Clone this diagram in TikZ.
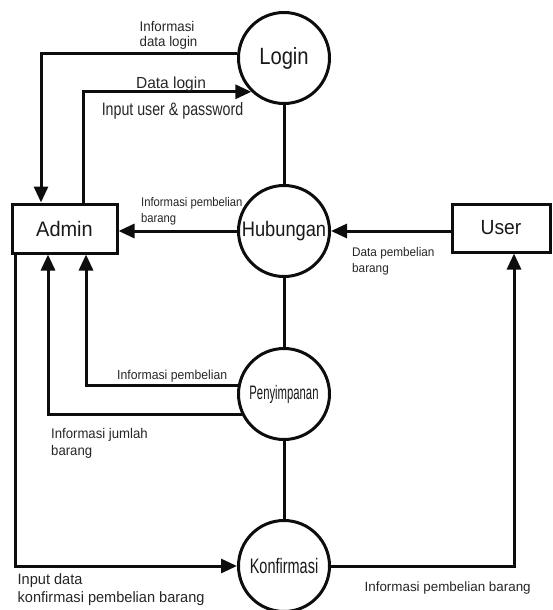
\documentclass[tikz,border=0pt]{standalone}
\usepackage{graphicx}
\usepackage{fontspec}
\setmainfont{Liberation Sans}
\usetikzlibrary{arrows.meta}
\newcommand{\nx}[2]{\scalebox{#1}[1]{#2}}
\newcommand{\twol}[2]{\vtop{\hbox{#1}\hbox{#2}}}
\newcommand{\fs}[2]{\fontsize{#1}{#2}\selectfont}
\begin{document}
\begin{tikzpicture}[x=1pt,y=-1pt,
  proc/.style={circle,draw=black!95,line width=3pt,minimum size=91pt,inner sep=0pt,text=black!90},
  ent/.style={rectangle,draw=black!95,line width=3pt,inner sep=0pt,text=black!90},
  link/.style={draw=black!95,line width=3pt},
  flow/.style={link,-{Triangle[length=16pt,width=14pt]}},
  lbl/.style={inner sep=0pt,text=black!85},
]
\useasboundingbox (0,0) rectangle (552,610);
\node[proc,font=\fs{23.5}{23.5}] (Login) at (284,58) {\nx{.86}{Login}};
\node[proc,font=\fs{21}{21}] (Hubungan) at (284,231) {\nx{.87}{Hubungan}};
\node[proc,font=\fs{19.5}{19.5}] (Penyimpanan) at (284,394) {\nx{.58}{Penyimpanan}};
\node[proc,font=\fs{21}{21}] (Konfirmasi) at (284,566) {\nx{.69}{Konfirmasi}};
\node[ent,minimum width=105pt,minimum height=49pt,font=\fs{21}{21}] (Admin) at (64.5,228.5) {\nx{.95}{Admin}};
\node[ent,minimum width=98pt,minimum height=48pt,font=\fs{20.5}{20.5}] (User) at (501,228) {\nx{.94}{User}};

\draw[link] (Login) -- (Hubungan);
\draw[link] (Hubungan) -- (Penyimpanan);
\draw[link] (Penyimpanan) -- (Konfirmasi);

\draw[flow] (Login.174) -| (41,0 |- Admin.north);
\draw[flow] (83,0 |- Admin.north) |- (Login.226);
\draw[flow] (Hubungan.west) -- (Admin.east |- Hubungan.west);
\draw[flow] (User.west |- Hubungan.east) -- (Hubungan.east);
\draw[flow] (Penyimpanan.169) -| (86,0 |- Admin.south);
\draw[flow] (Penyimpanan.206) -| (48,0 |- Admin.south);
\draw[flow] (15,0 |- Admin.south) |- (Konfirmasi.west);
\draw[flow] (Konfirmasi.east) -| (514,0 |- User.south);

\node[lbl,font=\fs{14}{15},anchor=base west] (l1) at (139.5,31.7) {\twol{\nx{.95}{Informasi}}{\nx{.95}{data login}}};
\node[lbl,font=\fs{16}{16},anchor=base] (l2) at (171,88.3) {\nx{.97}{Data login}};
\node[lbl,font=\fs{18}{18},anchor=base] (l3) at (172.5,115) {\nx{.79}{Input user \& password}};
\node[lbl,font=\fs{12.5}{15.6},anchor=base west] (l4) at (141,206.4) {\twol{\nx{.9}{Informasi pembelian}}{\nx{.9}{barang}}};
\node[lbl,font=\fs{12.5}{15.2},anchor=base west] (l5) at (352,256.8) {\twol{\nx{.94}{Data pembelian}}{\nx{.94}{barang}}};
\node[lbl,font=\fs{13}{13},anchor=base west] (l6) at (117,379) {\nx{.94}{Informasi pembelian}};
\node[lbl,font=\fs{14}{17},anchor=base west] (l7) at (51,438) {\twol{\nx{.94}{Informasi jumlah}}{\nx{.94}{barang}}};
\node[lbl,font=\fs{15}{18.5},anchor=base west] (l8) at (17.5,584) {\twol{\nx{.97}{Input data}}{\nx{.97}{konfirmasi pembelian barang}}};
\node[lbl,font=\fs{13.4}{13.4},anchor=base west] (l9) at (364.4,591) {Informasi pembelian barang};
\end{tikzpicture}
\end{document}
